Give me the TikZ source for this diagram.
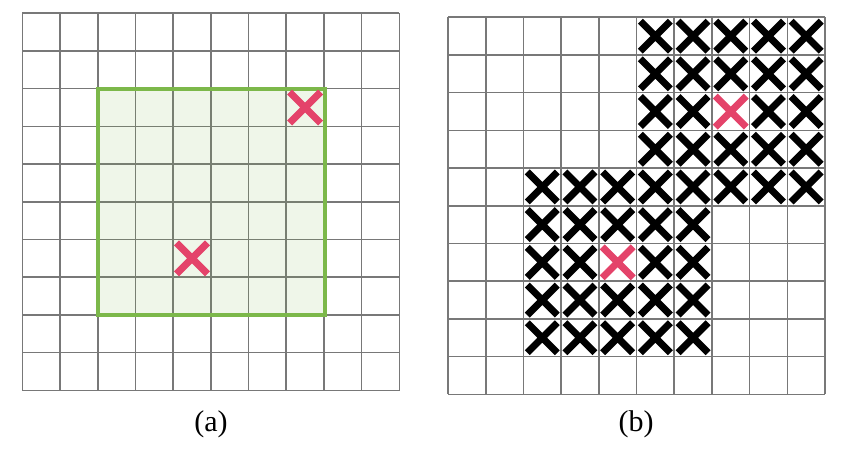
\documentclass[tikz,border=0pt]{standalone}
\usepackage{fontspec}
\setmainfont{Liberation Serif}
\definecolor{gridgray}{HTML}{787878}
\definecolor{boxgreen}{HTML}{7CB84A}
\definecolor{xred}{HTML}{E4436A}
\begin{document}
\begin{tikzpicture}[x=1pt,y=-1pt,
  gridline/.style={draw=gridgray,line width=1.6pt},
  crossmark/.style={line width=7pt,line cap=butt},
  caption/.style={font=\fontsize{30}{36}\selectfont,inner sep=0pt}]
\useasboundingbox (0,0) rectangle (848,449);
\def\cs{37.7}
% ---------- (a) ----------
\foreach \i in {0,...,10}{
  \draw[gridline] (22.3+\i*\cs,13.3) -- (22.3+\i*\cs,390.7);
  \draw[gridline] (22.3,13.3+\i*\cs) -- (399.3,13.3+\i*\cs);
}
\fill[boxgreen,fill opacity=0.12] (97.7,88.7) rectangle (324.5,315.2);
\draw[boxgreen,line width=4pt] (97.7,88.7) rectangle (324.5,315.2);
\foreach \cx/\cy in {7/2,4/6}{
  \draw[xred,crossmark,shift={(22.3+\cx*\cs+0.5*\cs,13.3+\cy*\cs+0.5*\cs)}]
    (-15.5,-15.5) -- (15.5,15.5) (-15.5,15.5) -- (15.5,-15.5);
}
\node[caption] (capa) at (211,424) {(a)};
% ---------- (b) ----------
\foreach \i in {0,...,10}{
  \draw[gridline] (448+\i*\cs,17.3) -- (448+\i*\cs,394);
  \draw[gridline] (448,17.3+\i*\cs) -- (824.7,17.3+\i*\cs);
}
\foreach \cx/\cy in {5/0,6/0,7/0,8/0,9/0,
                     5/1,6/1,7/1,8/1,9/1,
                     5/2,6/2,8/2,9/2,
                     5/3,6/3,7/3,8/3,9/3,
                     2/4,3/4,4/4,5/4,6/4,7/4,8/4,9/4,
                     2/5,3/5,4/5,5/5,6/5,
                     2/6,3/6,5/6,6/6,
                     2/7,3/7,4/7,5/7,6/7,
                     2/8,3/8,4/8,5/8,6/8}{
  \draw[black,crossmark,shift={(448+\cx*\cs+0.5*\cs,17.3+\cy*\cs+0.5*\cs)}]
    (-15,-15) -- (15,15) (-15,15) -- (15,-15);
}
\foreach \cx/\cy in {7/2,4/6}{
  \draw[xred,crossmark,shift={(448+\cx*\cs+0.5*\cs,17.3+\cy*\cs+0.5*\cs)}]
    (-15.5,-15.5) -- (15.5,15.5) (-15.5,15.5) -- (15.5,-15.5);
}
\node[caption] (capb) at (636,424) {(b)};
\end{tikzpicture}
\end{document}
